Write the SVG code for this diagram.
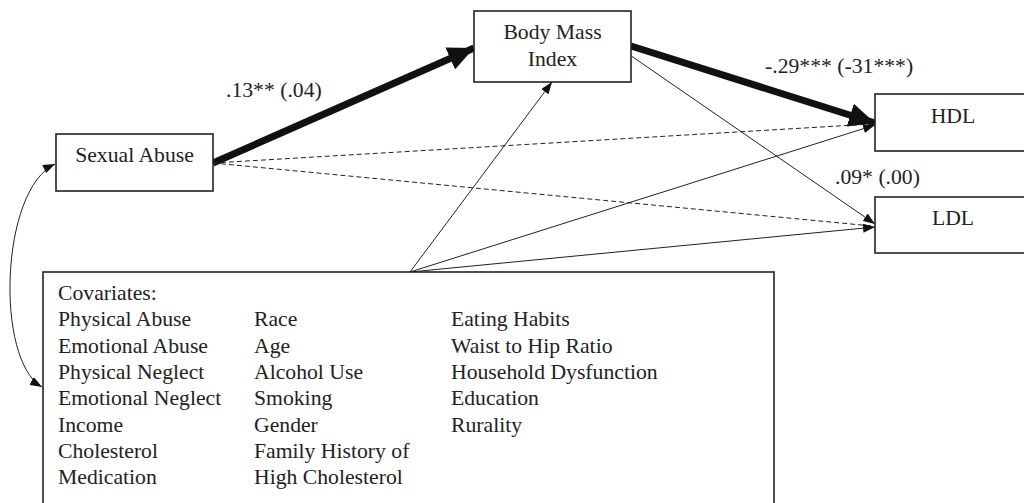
<svg xmlns="http://www.w3.org/2000/svg" width="1024" height="503" viewBox="0 0 1024 503">
<style>
text{font-family:"Liberation Serif","Times New Roman",serif;font-size:21.7px;fill:#222}
.box{fill:#fff;stroke:#222;stroke-width:1.6}
.thin{stroke:#222;stroke-width:1;fill:none}
.dash{stroke:#222;stroke-width:1;fill:none;stroke-dasharray:5 3}
.thick{stroke:#111;stroke-width:7;fill:none}
</style>
<defs>
<marker id="ah" markerUnits="userSpaceOnUse" markerWidth="12" markerHeight="9" refX="12" refY="4.5" orient="auto-start-reverse"><path d="M0,0 L12,4.5 L0,9 z" fill="#111"/></marker>
<marker id="big" markerUnits="userSpaceOnUse" markerWidth="26" markerHeight="24" refX="26" refY="12" orient="auto"><path d="M0,0 L26,12 L0,24 z" fill="#111"/></marker>
</defs>
<rect width="1024" height="503" fill="#fff"/>
<g id="connectors">
<line class="thick" x1="213" y1="163" x2="474" y2="48" marker-end="url(#big)"/>
<line class="thick" x1="631" y1="46" x2="875" y2="123" marker-end="url(#big)"/>
<line class="dash" x1="213" y1="163" x2="872" y2="124"/>
<line class="dash" x1="213" y1="163" x2="872" y2="226"/>
<line class="thin" x1="627" y1="53" x2="875" y2="224" marker-end="url(#ah)"/>
<line class="thin" x1="410" y1="272" x2="552" y2="82" marker-end="url(#ah)"/>
<line class="thin" x1="410" y1="272" x2="875" y2="125" marker-end="url(#ah)"/>
<line class="thin" x1="410" y1="272" x2="875" y2="227" marker-end="url(#ah)"/>
<path class="thin" d="M55,164 C0,190 -5,360 42,387" marker-start="url(#ah)" marker-end="url(#ah)"/>
<text x="226" y="97">.13** (.04)</text>
<text x="765" y="73">-.29*** (-31***)</text>
<text x="835" y="184">.09* (.00)</text>
</g>
<g id="sexual-abuse">
<rect class="box" x="56" y="134" width="157" height="57"/>
<text x="134.5" y="162" text-anchor="middle">Sexual Abuse</text>
</g>
<g id="bmi">
<rect class="box" x="474" y="11" width="157" height="71"/>
<text x="552.5" y="39" text-anchor="middle">Body Mass</text>
<text x="552.5" y="66" text-anchor="middle">Index</text>
</g>
<g id="hdl">
<rect class="box" x="875" y="94" width="160" height="57"/>
<text x="953" y="123" text-anchor="middle">HDL</text>
</g>
<g id="ldl">
<rect class="box" x="875" y="197" width="160" height="56"/>
<text x="953" y="225" text-anchor="middle">LDL</text>
</g>
<g id="covariates">
<rect class="box" x="43" y="272" width="731" height="250"/>
<text x="58" y="300">Covariates:</text>
<text x="58" y="326">Physical Abuse</text>
<text x="58" y="353">Emotional Abuse</text>
<text x="58" y="379">Physical Neglect</text>
<text x="58" y="405">Emotional Neglect</text>
<text x="58" y="432">Income</text>
<text x="58" y="458">Cholesterol</text>
<text x="58" y="484">Medication</text>
<text x="254" y="326">Race</text>
<text x="254" y="353">Age</text>
<text x="254" y="379">Alcohol Use</text>
<text x="254" y="405">Smoking</text>
<text x="254" y="432">Gender</text>
<text x="254" y="458">Family History of</text>
<text x="254" y="484">High Cholesterol</text>
<text x="451" y="326">Eating Habits</text>
<text x="451" y="353">Waist to Hip Ratio</text>
<text x="451" y="379">Household Dysfunction</text>
<text x="451" y="405">Education</text>
<text x="451" y="432">Rurality</text>
</g>
</svg>
